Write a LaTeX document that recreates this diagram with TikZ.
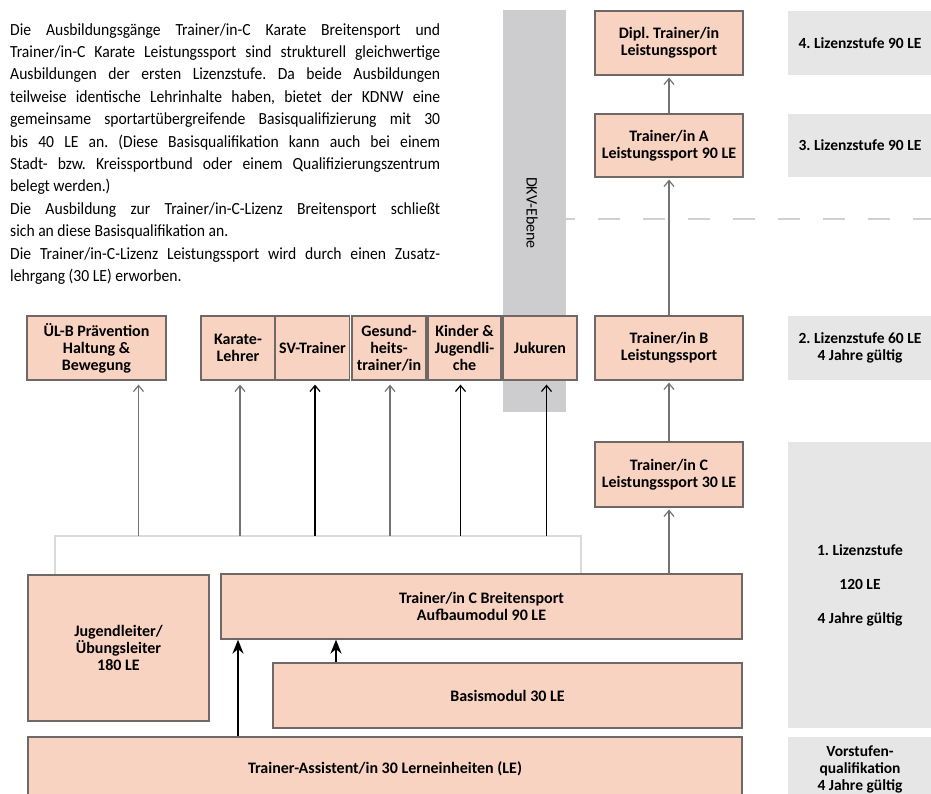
\documentclass[tikz,border=0pt]{standalone}
\usepackage{fontspec}
\setmainfont{Carlito}
\newfontfamily\introfamily{Carlito}[FakeStretch=0.92]
\usetikzlibrary{arrows.meta}

\definecolor{boxfill}{RGB}{248,211,193}
\definecolor{boxline}{RGB}{112,104,102}
\definecolor{levelgrey}{RGB}{230,230,230}
\definecolor{dkvgrey}{RGB}{205,205,207}
\definecolor{arrowgrey}{RGB}{115,115,115}
\definecolor{bracketgrey}{RGB}{218,218,218}
\definecolor{dashgrey}{RGB}{208,208,208}

\newcommand\introfont{\introfamily\fontsize{17}{22.4}\selectfont}
\newcommand\boxfont{\bfseries\fontsize{16}{17}\selectfont}
\newcommand\levelfont{\bfseries\fontsize{15.5}{17}\selectfont}
\newcommand\dkvfont{\fontsize{16}{17}\selectfont}

\tikzset{
  box/.style n args={2}{draw=boxline, fill=boxfill, line width=1.2pt,
    minimum width=#1pt, minimum height=#2pt, inner sep=0pt, align=center, font=\boxfont},
  level/.style n args={2}{fill=levelgrey, minimum width=#1pt, minimum height=#2pt,
    inner sep=0pt, align=center, font=\levelfont},
  thinarrow/.style={-{Straight Barb[length=6pt,width=10pt]}, line width=1.2pt, shorten >=4pt},
  thickarrow/.style={-{Stealth[length=14pt,width=11pt]}, line width=2.2pt},
}

\begin{document}
\frenchspacing
\begin{tikzpicture}[x=1pt,y=-1pt]
\useasboundingbox (0,0) rectangle (931,793);

% DKV strip and divider
\node[fill=dkvgrey, minimum width=63pt, minimum height=402pt, inner sep=0pt] (dkv) at (534.5,211) {};
\node[rotate=-90, font=\dkvfont] (dkvlabel) at (532,213) {DKV-Ebene};
\coordinate (divider) at (931,219);
\draw[dashgrey, line width=2pt, dash pattern=on 22pt off 23pt, dash phase=13pt]
  (dkv.east |- divider) -- (divider);

% intro text
\hyphenpenalty=10000 \exhyphenpenalty=10000
\node[anchor=north west, text width=430pt, align=justify, inner sep=0pt, font=\introfont] (intro) at (10,23)
{Die Ausbildungsgänge Trainer/in-C Karate Breitensport und\linebreak
Trainer/in-C Karate Leistungssport sind strukturell gleichwertige\linebreak
Ausbildungen der ersten Lizenzstufe. Da beide Ausbildungen\linebreak
teilweise identische Lehrinhalte haben, bietet der KDNW eine\linebreak
gemeinsame sportartübergreifende Basisqualifizierung mit 30\linebreak
bis 40 LE an. (Diese Basisqualifikation kann auch bei einem\linebreak
Stadt- bzw. Kreissportbund oder einem Qualifizierungszentrum\linebreak
belegt werden.)\\
Die Ausbildung zur Trainer/in-C-Lizenz Breitensport schließt\linebreak
sich an diese Basisqualifikation an.\\
Die Trainer/in-C-Lizenz Leistungssport wird durch einen Zusatz-\linebreak
lehrgang (30 LE) erworben.};

% levels
\node[level={144}{64}] (lvl4) at (860,43) {4. Lizenzstufe 90 LE};
\node[level={144}{63}] (lvl3) at (860,145.5) {3. Lizenzstufe 90 LE};
\node[level={144}{64}] (lvl2) at (860,348) {2. Lizenzstufe 60 LE\\4 Jahre gültig};
\node[level={144}{286}] (lvl1) at (860,585) {1. Lizenzstufe\\[17pt]120 LE\\[17pt]4 Jahre gültig};
\node[level={144}{64}] (lvl0) at (860,769) {Vorstufen-\\qualifikation\\4 Jahre gültig};

% Leistungssport column
\node[box={148}{64}] (dipl) at (669,43) {Dipl. Trainer/in\\Leistungssport};
\node[box={148}{63}] (tra) at (669,145.5) {Trainer/in A\\Leistungssport 90 LE};
\node[box={148}{64}] (trb) at (669,348) {Trainer/in B\\Leistungssport};
\node[box={148}{65}] (trcl) at (669,474.5) {Trainer/in C\\Leistungssport 30 LE};

% further qualifications
\node[box={139}{64}] (ulb) at (96.5,348) {ÜL-B Prävention\\Haltung \&\\Bewegung};
\node[box={74}{64}] (karate) at (238,348) {Karate-\\Lehrer};
\node[box={74}{64}] (sv) at (312.5,348) {SV-Trainer};
\node[box={74}{64}] (gesund) at (389,348) {Gesund-\\heits-\\trainer/in};
\node[box={73}{64}] (kinder) at (464.5,348) {Kinder \&\\Jugendli-\\che};
\node[box={74}{64}] (jukuren) at (540,348) {Jukuren};

% Breitensport
\node[box={181}{146}] (jugend) at (118.5,648) {Jugendleiter/\\Übungsleiter\\180 LE};
\node[box={521}{65}] (trcb) at (481.5,606.5) {Trainer/in C Breitensport\\Aufbaumodul 90 LE};
\node[box={469}{65}] (basis) at (507.5,695.5) {Basismodul 30 LE};
\node[box={714}{64}] (assist) at (385,769) {Trainer-Assistent/in 30 Lerneinheiten (LE)};

% bracket
\coordinate (bl) at (55,536);
\coordinate (br) at (581,536);
\draw[bracketgrey, line width=2pt] (bl |- jugend.north) -- (bl) -- (br) -- (br |- trcb.north);
\coordinate (b1) at (138.5,536);
\coordinate (b2) at (240,536);
\coordinate (b3) at (315,536);
\coordinate (b4) at (390,536);
\coordinate (b5) at (460.5,536);
\coordinate (b6) at (546.5,536);
\draw[thinarrow, arrowgrey] (b1) -- (b1 |- ulb.south);
\draw[thinarrow, arrowgrey] (b2) -- (b2 |- karate.south);
\draw[thinarrow] (b3) -- (b3 |- sv.south);
\draw[thinarrow, arrowgrey] (b4) -- (b4 |- gesund.south);
\draw[thinarrow] (b5) -- (b5 |- kinder.south);
\draw[thinarrow] (b6) -- (b6 |- jukuren.south);

% upward path
\draw[thinarrow, arrowgrey, shorten >=2pt] (trcl.south |- trcb.north) -- (trcl.south);
\draw[thinarrow, arrowgrey, shorten >=2pt] (trcl.north) -- (trb.south);
\draw[thinarrow, arrowgrey, shorten >=2pt] (trb.north) -- (tra.south);
\draw[thinarrow, arrowgrey, shorten >=2pt] (tra.north) -- (dipl.south);

% thick arrows into Aufbaumodul
\coordinate (t1) at (238,700);
\coordinate (t2) at (336,700);
\draw[thickarrow] (t1 |- assist.north) -- (t1 |- trcb.south);
\draw[thickarrow] (t2 |- basis.north) -- (t2 |- trcb.south);
\end{tikzpicture}
\end{document}
